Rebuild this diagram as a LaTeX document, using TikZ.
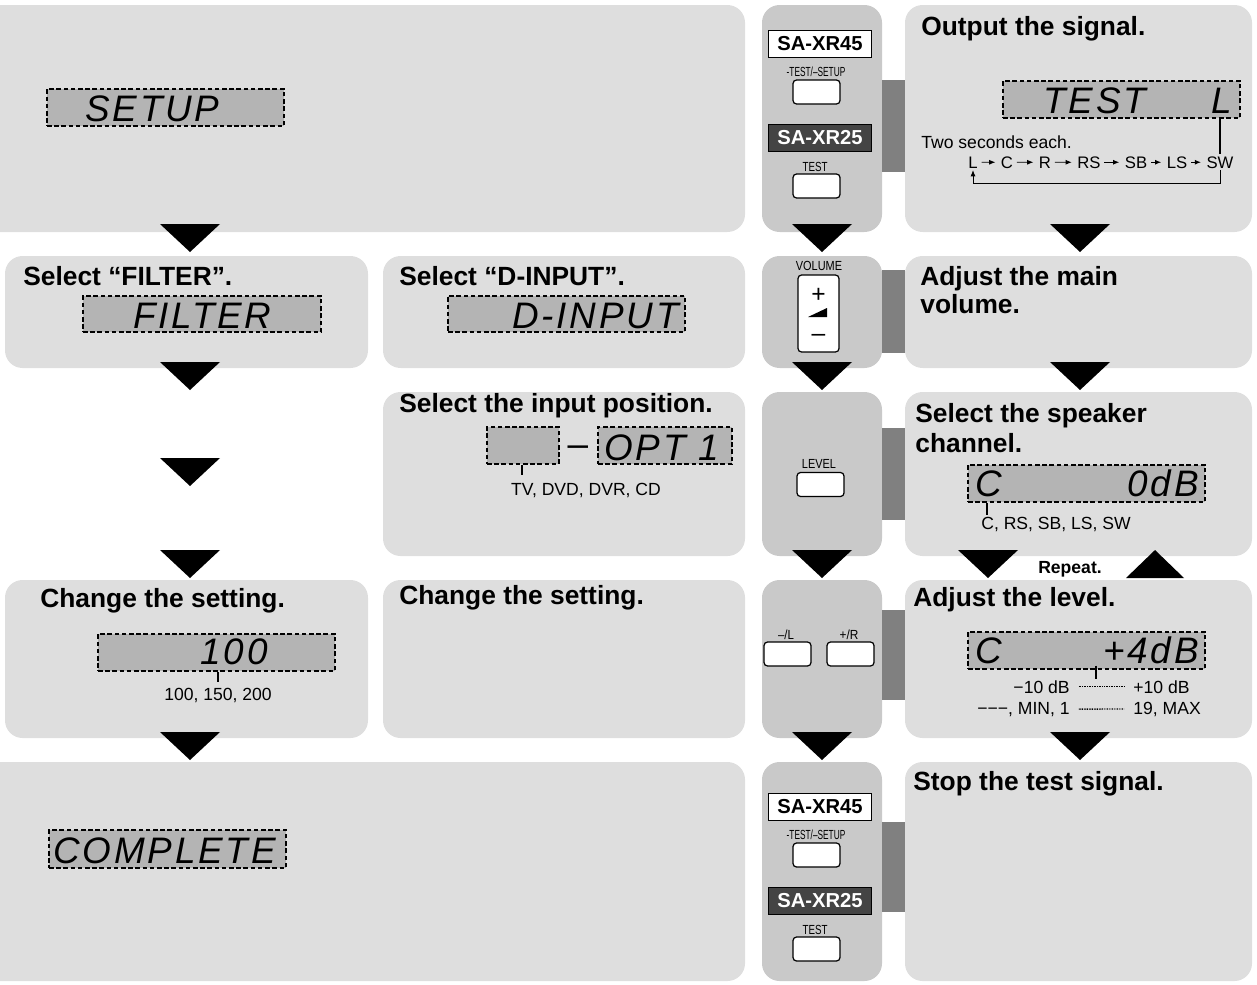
\documentclass[tikz,border=0pt]{standalone}
\usepackage{fontspec}
\usepackage{graphicx}
\setmainfont{Liberation Sans}
\newfontfamily\lcdfont[LetterSpace=7.5]{Liberation Sans}
\usetikzlibrary{fit,arrows.meta}

\definecolor{panelgray}{RGB}{222,222,222}
\definecolor{keygray}{RGB}{201,201,201}
\definecolor{bargray}{RGB}{128,128,128}
\definecolor{lcdgray}{RGB}{180,180,180}
\definecolor{tagdark}{RGB}{68,68,68}

\tikzset{
  panel/.style={fill=panelgray, rounded corners=10pt},
  keypanel/.style={fill=keygray, rounded corners=10pt},
  lcd/.style={draw, fill=lcdgray, inner sep=0pt, line width=0.6pt, dash pattern=on 2.6pt off 1.5pt},
  lcdtext/.style={font=\lcdfont\itshape\fontsize{21}{21}\selectfont, inner sep=0pt},
  head/.style={font=\bfseries\fontsize{15}{17}\selectfont, anchor=base west, inner sep=0pt},
  note/.style={font=\fontsize{10}{12}\selectfont, inner sep=0pt},
  seq/.style={font=\fontsize{9.5}{11}\selectfont, inner sep=1pt, anchor=base},
  keylabel/.style={font=\fontsize{7.5}{9}\selectfont, inner sep=0pt},
  button/.style={draw, fill=white, rounded corners=2pt, line width=0.7pt, minimum width=0.94cm, minimum height=0.48cm},
  model/.style={draw, line width=1.1pt, font=\bfseries\fontsize{11.5}{13}\selectfont, minimum width=2.06cm, minimum height=0.54cm, inner sep=0pt},
  tick/.style={line width=0.6pt},
  scaledots/.style={line width=0.8pt, dash pattern=on 0.45pt off 0.5pt, shorten <=5pt, shorten >=5pt},
}

\begin{document}
\begin{tikzpicture}[x=0.02cm, y=-0.02cm, >={Latex[length=3.5pt,width=2.8pt]}]
\useasboundingbox (0,0) rectangle (1257,984);
\clip (0,0) rectangle (1257,984);

% panels
\foreach \xa/\ya/\xb/\yb in {-30/5/745/232, 905/5/1252/232, 5/256/368/368, 383/256/745/368, 905/256/1252/368, 383/392/745/556, 905/392/1252/556, 5/580/368/738, 383/580/745/738, 905/580/1252/738, -30/762/745/981, 905/762/1252/981}
  \fill[panel] (\xa,\ya) rectangle (\xb,\yb);
\foreach \ya/\yb in {5/232, 256/368, 392/556, 580/738, 762/981}
  \fill[keypanel] (762,\ya) rectangle (882,\yb);
\foreach \ya/\yb in {80/172, 270/353, 428/520, 610/700, 822/912}
  \fill[bargray] (882,\ya) rectangle (905,\yb);

% flow triangles
\foreach \x/\y in {190/224, 822/224, 1080/224, 190/362, 822/362, 1080/362, 190/458, 190/550, 822/550, 988/550, 190/732, 822/732, 1080/732}
  \fill (\x-30,\y) -- ++(60,0) -- ++(-30,28) -- cycle;
\fill (1155,550) -- ++(29,28) -- ++(-58,0) -- cycle;
\node[font=\bfseries\fontsize{10}{12}\selectfont, inner sep=0pt, anchor=base] (repeat) at (1070,573) {Repeat.};

% test keys (top and bottom)
\foreach \dy/\k in {0/a, 763/b}
{
  \node[model, fill=white] (xrHi\k) at (820,44+\dy) {SA-XR45};
  \node[keylabel] (lSetup\k) at (816,72+\dy) {\scalebox{0.63}[1]{-TEST/–SETUP}};
  \node[button] (bSetup\k) at (816.5,92+\dy) {};
  \node[model, fill=tagdark, text=white] (xrLo\k) at (820,138+\dy) {SA-XR25};
  \node[keylabel] (lTest\k) at (815,167+\dy) {\scalebox{0.74}[1]{TEST}};
  \node[button] (bTest\k) at (816.5,186+\dy) {};
}

% row 1
\node[lcd, fit={(47,89)(284,126)}] (dSetup) {};
\node[lcdtext, anchor=base west] at (85,121) {SETUP};
\node[head] (hOut) at (921,35) {Output the signal.};
\node[lcd, fit={(1003,81)(1240,118)}] (dTest) {};
\node[lcdtext, anchor=base west] at (1043,113) {TEST};
\node[lcdtext, anchor=base east] at (1232,113) {L};
\node[note, anchor=base west] (twosec) at (921,148) {Two seconds each.};
\foreach \n/\t/\x in {sL/L/973, sC/C/1007, sR/R/1045, sRS/RS/1089, sSB/SB/1136, sLS/LS/1177, sSW/SW/1220}
  \node[seq] (\n) at (\x,168) {\t};
\foreach \a/\b in {sL/sC, sC/sR, sR/sRS, sRS/sSB, sSB/sLS, sLS/sSW}
  \draw[->, line width=0.5pt, shorten <=1pt, shorten >=2pt] (\a) -- (\b);
\draw[tick] (sSW.north |- dTest.south) -- (sSW.north);
\draw[->, line width=0.5pt] (sSW.south) -- ++(0,13) -| (sL.south);

% row 2
\node[head] (hFilter) at (23,285) {Select “FILTER”.};
\node[lcd, fit={(83,296)(321,332)}] (dFilter) {};
\node[lcdtext, anchor=base west] at (133,328) {FILTER};
\node[head] (hInput) at (399,285) {Select “D-INPUT”.};
\node[lcd, fit={(448,296)(685,332)}] (dInput) {};
\node[lcdtext, anchor=base east] at (679,328) {D-INPUT};
\node[keylabel] (lVol) at (819,266) {\scalebox{0.83}[1]{VOLUME}};
\node[draw, fill=white, rounded corners=2pt, line width=0.7pt, minimum width=0.82cm, minimum height=1.54cm] (knob) at (818.5,313.5) {};
\node[font=\fontsize{14}{14}\selectfont, inner sep=0pt] (kPlus) at (818.5,295) {+};
\fill (808,317) -- (827,317) -- (827,308) -- cycle;
\node[font=\fontsize{14}{14}\selectfont, inner sep=0pt, anchor=base] (kMinus) at (818.5,341) {–};
\node[head] (hMain) at (920,285) {Adjust the main};
\node[head] (hVol) at (920,313) {volume.};

% row 3
\node[head] (hPos) at (399,412) {Select the input position.};
\node[lcd, fit={(487,427)(559,464)}] (dSrc) {};
\node[font=\fontsize{21}{21}\selectfont, inner sep=0pt, anchor=base] at (578,456) {–};
\node[lcd, fit={(598,427)(732,464)}] (dOpt) {};
\node[lcdtext, anchor=base west] at (604,460) {OPT 1};
\node[note, anchor=base] (tvlist) at (586,495) {TV, DVD, DVR, CD};
\draw[tick] (522,0 |- dSrc.south) -- ++(0,10);
\node[keylabel] (lLevel) at (819,464) {\scalebox{0.83}[1]{LEVEL}};
\node[button] (bLevel) at (820.5,484.5) {};
\node[head] (hSpk) at (915,422) {Select the speaker};
\node[head] (hChan) at (915,452) {channel.};
\node[lcd, fit={(968,465)(1205,502)}] (dCh) {};
\node[lcdtext, anchor=base west] at (975,496) {C};
\node[lcdtext, anchor=base east] at (1199,496) {0dB};
\node[note, anchor=base west] (chlist) at (981,529) {C, RS, SB, LS, SW};
\draw[tick] (987,0 |- dCh.south) -- ++(0,12);

% row 4
\node[head] (hSet) at (40,607) {Change the setting.};
\node[lcd, fit={(98,634)(335,671)}] (dFreq) {};
\node[lcdtext, anchor=base east] at (268,664) {100};
\node[note, anchor=base] (freqlist) at (218,700) {100, 150, 200};
\draw[tick] (218,0 |- dFreq.south) -- ++(0,10);
\node[head] (hSetB) at (399,604) {Change the setting.};
\node[keylabel] (lDown) at (786,635) {\scalebox{0.87}[1]{–/L}};
\node[keylabel] (lUp) at (849,635) {\scalebox{0.9}[1]{+/R}};
\node[button] (bDown) at (787.5,654) {};
\node[button] (bUp) at (850.5,654) {};
\node[head] (hLvl) at (913,606) {Adjust the level.};
\node[lcd, fit={(968,632)(1205,669)}] (dLvl) {};
\node[lcdtext, anchor=base west] at (975,663) {C};
\node[lcdtext, anchor=base east] at (1199,663) {+4dB};
\draw[tick] (1096,0 |- dLvl.south) ++(0,-4) -- ++(0,13);
\node[note, anchor=base east] (dbLo) at (1070,693) {−10 dB};
\node[note, anchor=base west] (dbHi) at (1133,693) {+10 dB};
\node[note, anchor=base east] (stLo) at (1070,714) {−−−, MIN, 1};
\node[note, anchor=base west] (stHi) at (1133,714) {19, MAX};
\draw[scaledots] (dbLo.east) -- (dbHi.west);
\draw[scaledots] (stLo.east) -- (stHi.west);

% row 5
\node[lcd, fit={(49,830)(286,868)}] (dDone) {};
\node[lcdtext, anchor=base west] at (53,863) {COMPLETE};
\node[head] (hStop) at (913,790) {Stop the test signal.};
\end{tikzpicture}
\end{document}
